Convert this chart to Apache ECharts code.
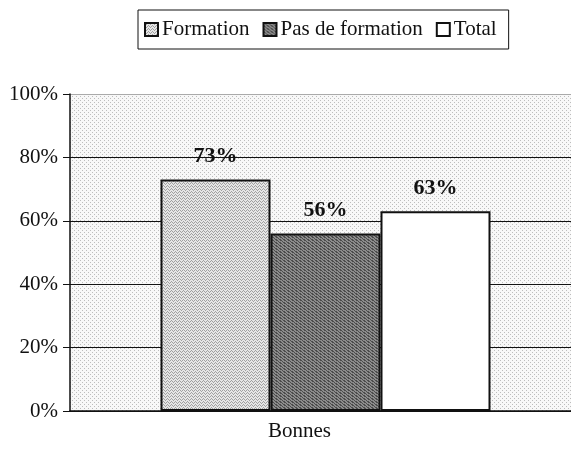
<!DOCTYPE html>
<html>
<head>
<meta charset="utf-8">
<script src="https://cdn.jsdelivr.net/npm/echarts@6/dist/echarts.min.js"></script>
<style>
  html, body { margin: 0; padding: 0; background: #fff; }
  #chart { width: 571px; height: 457px; }
</style>
</head>
<body>
<div id="chart"></div>
<script>
// données
const categories = ['Bonnes'];
const seriesNames = ['Formation', 'Pas de formation', 'Total'];
const formation = [73];
const pasDeFormation = [56];
const total = [63];
const yTicks = [0, 20, 40, 60, 80, 100];

// petites trames pointillées (comme l'impression d'origine)
function makePattern(w, h, bg, dot, dots) {
  const c = document.createElement('canvas');
  c.width = w; c.height = h;
  const ctx = c.getContext('2d');
  ctx.fillStyle = bg;
  ctx.fillRect(0, 0, w, h);
  ctx.fillStyle = dot;
  dots.forEach(p => ctx.fillRect(p[0], p[1], 1, 1));
  return { image: c, repeat: 'repeat' };
}

const bgPattern = makePattern(4, 4, '#f8f8f8', '#bdbdbd', [[0, 0], [2, 2]]);
const formPattern = makePattern(4, 3, '#e6e6e6', '#a0a0a0', [[0, 0], [2, 0], [1, 1], [3, 2]]);
const pasPattern = makePattern(4, 3, '#8c8c8c', '#4c4c4c', [[0, 0], [1, 0], [2, 1], [3, 2], [0, 2]]);

const font = 'Liberation Serif';

let myChart = echarts.init(document.getElementById('chart'));
let option = {
  backgroundColor: '#fff',
  textStyle: { fontFamily: font },
  legend: {
    data: seriesNames,
    icon: 'rect',
    left: 138,
    top: 10,
    padding: [9, 12, 9, 6],
    itemWidth: 13,
    itemHeight: 13,
    itemGap: 13,
    borderColor: '#111',
    borderWidth: 1,
    borderRadius: 0,
    textStyle: { fontFamily: font, fontSize: 21, color: '#111', padding: [0, 0, 0, -1] }
  },
  grid: {
    left: 70,
    top: 94,
    width: 511,
    height: 317,
    outerBoundsMode: 'none',
    show: true,
    backgroundColor: bgPattern,
    borderWidth: 0
  },
  xAxis: {
    type: 'category',
    data: categories,
    axisLine: { lineStyle: { color: '#111', width: 1.5 } },
    axisTick: { show: false },
    axisLabel: {
      fontFamily: font,
      fontSize: 21,
      color: '#111',
      margin: 10,
      padding: [0, 52, 0, 0]
    }
  },
  yAxis: {
    type: 'value',
    min: 0,
    max: 100,
    interval: 20,
    axisLine: { show: true, lineStyle: { color: '#111', width: 1.5 } },
    axisTick: { show: true, length: 7, lineStyle: { color: '#111' } },
    axisLabel: {
      fontFamily: font,
      fontSize: 21,
      color: '#111',
      margin: 12,
      formatter: v => yTicks.includes(v) ? v + '%' : ''
    },
    splitLine: {
      show: true,
      lineStyle: { color: ['#111', '#111', '#111', '#111', '#111', '#aaa'], width: 1 }
    }
  },
  series: [
    {
      name: seriesNames[0],
      type: 'bar',
      data: formation,
      itemStyle: { color: formPattern, borderColor: '#111', borderWidth: 2 }
    },
    {
      name: seriesNames[1],
      type: 'bar',
      data: pasDeFormation,
      itemStyle: { color: pasPattern, borderColor: '#111', borderWidth: 2 }
    },
    {
      name: seriesNames[2],
      type: 'bar',
      data: total,
      itemStyle: { color: '#fff', borderColor: '#111', borderWidth: 2 }
    }
  ].map(s => Object.assign(s, {
    barWidth: 110,
    barGap: 0,
    label: {
      show: true,
      position: 'top',
      distance: 12,
      formatter: '{c}%',
      fontFamily: font,
      fontSize: 22,
      fontWeight: 'bold',
      color: '#111'
    }
  }))
};
myChart.setOption(option);
</script>
</body>
</html>
